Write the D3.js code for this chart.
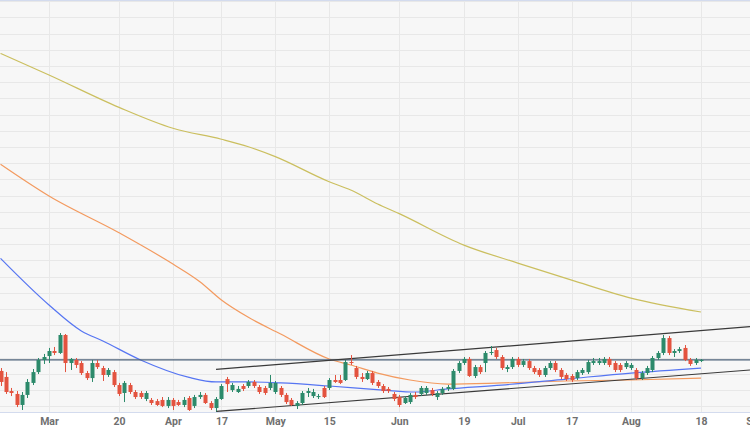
<!DOCTYPE html>
<html>
<head>
<meta charset="utf-8">
<script src="https://cdn.jsdelivr.net/npm/d3@7"></script>
<style>
  html, body { margin: 0; padding: 0; background: #ffffff; }
  svg { display: block; }
</style>
</head>
<body>
<svg id="chart" width="750" height="430"></svg>
<script>
// ---- data (trading-day index, 0 = Mar 1) ----
const startIndex = -9;
const opens = [12.17,11.80,10.93,10.75,10.07,10.69,11.43,12.10,12.85,
  13.09,13.40,13.28,14.39,12.66,12.85,12.66,12.04,11.73,12.66,
  12.35,11.92,12.10,11.30,10.81,11.30,10.87,10.81,10.44,10.38,
  10.31,10.38,10.01,10.38,10.25,10.07,10.50,10.01,10.56,10.69,
  10.19,9.88,10.44,11.67,10.99,10.87,11.24,11.24,11.49,11.18,
  11.12,11.12,10.87,11.12,10.69,10.38,10.01,10.19,10.81,10.62,
  10.56,11.12,11.12,11.61,11.61,11.61,12.72,12.35,11.80,11.67,
  12.04,11.49,11.24,11.06,10.75,10.56,10.19,10.25,10.69,10.75,
  10.81,10.99,10.56,10.81,11.06,11.06,12.17,12.66,12.91,11.86,
  12.41,12.66,13.28,13.46,13.03,12.29,12.41,12.91,12.54,12.78,
  12.35,12.23,11.92,12.35,12.66,12.23,11.92,11.86,11.73,12.04,
  12.10,12.66,12.66,12.66,12.91,12.66,12.54,12.41,12.35,12.23,
  11.73,12.04,12.23,12.97,13.28,14.20,13.28,13.40,13.59,12.85,
  12.66,12.78];
const highs = [12.35,12.10,11.12,10.93,10.87,11.67,12.29,12.97,13.22,
  13.59,13.65,14.51,14.45,12.97,12.97,12.78,12.17,12.85,12.85,
  12.48,12.35,12.23,11.43,11.55,11.43,10.99,10.93,10.93,10.50,
  10.44,10.56,10.56,10.50,10.38,10.56,10.62,10.69,10.87,10.81,
  10.31,10.56,11.36,11.80,11.43,11.24,11.36,11.61,11.61,11.30,
  11.24,11.92,11.55,11.24,10.81,10.50,10.31,10.93,11.12,11.06,
  10.75,11.24,11.73,11.92,11.92,12.85,13.15,12.48,12.04,12.17,
  12.17,11.61,11.36,11.18,10.87,10.69,10.62,10.81,10.87,11.24,
  11.24,11.12,10.93,11.18,11.30,12.29,12.78,13.03,13.03,12.54,
  12.54,13.40,13.71,13.59,13.15,12.54,13.03,13.03,12.91,12.91,
  12.48,12.35,12.48,12.78,12.78,12.35,12.04,11.98,12.23,12.35,
  12.85,12.97,12.97,13.03,13.03,12.78,12.66,12.78,12.66,12.35,
  12.17,12.48,13.09,13.40,14.39,14.33,13.52,13.65,13.77,12.97,
  12.97,12.91];
const lows = [11.24,10.75,10.62,9.94,9.76,10.50,11.30,11.98,12.60,
  12.66,13.15,13.22,12.10,12.23,12.35,11.92,11.61,11.49,12.29,
  11.55,11.80,11.18,10.62,10.25,10.75,10.44,10.44,10.31,10.07,
  10.01,9.94,9.88,9.76,10.01,9.94,9.70,9.88,10.44,10.13,
  9.76,9.67,10.38,10.87,10.87,10.81,10.93,11.12,11.12,10.75,
  10.69,10.99,10.75,10.56,10.13,10.01,9.82,10.07,10.56,10.50,
  10.44,10.50,10.99,11.43,11.36,11.55,12.54,11.67,11.49,11.61,
  11.30,11.12,10.81,10.81,10.31,9.94,10.13,10.13,10.44,10.62,
  10.69,10.62,10.38,10.69,10.93,10.99,12.04,12.54,11.80,11.73,
  11.98,12.10,13.15,12.91,12.23,12.10,12.29,12.41,12.41,12.23,
  11.98,11.80,11.80,12.23,12.10,11.67,11.55,11.49,11.61,11.92,
  11.98,12.54,12.54,12.54,12.41,12.10,12.10,12.29,12.23,11.61,
  11.61,11.92,12.10,12.85,13.15,13.15,13.03,13.28,12.78,12.48,
  12.54,12.72];
const closes = [11.49,10.87,10.81,10.07,10.69,11.49,12.10,12.85,13.03,
  13.40,13.28,14.39,12.66,12.91,12.54,12.04,11.73,12.66,12.41,
  11.92,12.23,11.30,10.75,11.43,10.87,10.56,10.56,10.81,10.19,
  10.07,10.01,10.38,10.01,10.07,10.38,9.76,10.56,10.69,10.19,
  9.88,10.44,11.24,11.36,11.30,11.06,11.06,11.49,11.24,10.87,
  10.81,11.43,11.43,10.69,10.25,10.07,10.19,10.81,10.93,10.87,
  10.62,10.56,11.61,11.49,11.43,12.72,12.66,11.80,11.67,12.04,
  11.43,11.24,10.93,10.93,10.44,10.07,10.50,10.69,10.56,11.12,
  11.12,10.75,10.81,11.06,11.18,12.17,12.66,12.91,11.86,12.41,
  12.10,13.28,13.34,13.03,12.35,12.41,12.91,12.54,12.78,12.35,
  12.10,11.92,12.35,12.66,12.23,11.80,11.67,11.61,12.10,12.23,
  12.72,12.78,12.78,12.91,12.54,12.23,12.23,12.66,12.54,11.73,
  12.04,12.35,12.97,13.28,14.20,13.28,13.40,13.52,12.85,12.60,
  12.85,12.85];

const sma200Idx = [-9, 0, 13, 23, 32, 37, 42, 52, 56, 61, 65, 77, 87, 97, 108, 121];
const sma200Val = [31.77, 30.44, 28.44, 27.15, 26.47, 26.01, 25.40, 23.85, 23.34, 22.48, 21.88, 19.94, 18.83, 17.78, 16.67, 15.81];
const sma100Idx = [-9, 0, 13, 23, 28, 32, 37, 43, 52, 56, 61, 67, 74, 84, 96, 108, 121];
const sma100Val = [24.93, 22.97, 20.70, 18.77, 17.68, 16.55, 15.48, 14.45, 12.91, 12.54, 12.04, 11.61, 11.36, 11.43, 11.55, 11.61, 11.73];
const sma50Idx = [-9, 0, 6, 10, 17, 26, 31, 37, 43, 52, 62, 68, 74, 84, 96, 108, 121];
const sma50Val = [19.12, 16.24, 14.64, 14.02, 12.85, 11.77, 11.49, 11.49, 11.43, 11.24, 10.99, 10.87, 11.06, 11.30, 11.67, 12.04, 12.35];

const upperTrend = [[31, 12.27], [130.1, 14.90]];
const lowerTrend = [[31, 9.67], [130.1, 12.23]];
const levelValue = 12.85;

const tickIndex = [0, 13, 23, 32, 42, 52, 65, 77, 87, 97, 108, 121, 131];
const tickLabels = ["Mar", "20", "Apr", "17", "May", "15", "Jun", "19", "Jul", "17", "Aug", "18", "Sep"];

// ---- layout ----
const W = 750, H = 430, plotH = 412;
const svg = d3.select("#chart");

const x = d3.scaleLinear().domain([-9.094, 130.1]).range([0, W]);
const y = d3.scaleLinear().domain([9.636, 35.068]).range([plotH, 0]);

svg.append("rect").attr("x", 0).attr("y", 0).attr("width", W).attr("height", H).attr("fill", "#ffffff");
svg.append("rect").attr("x", 0).attr("y", 0).attr("width", W).attr("height", plotH).attr("fill", "#f7f7f7");

svg.append("defs").append("clipPath").attr("id", "clip")
  .append("rect").attr("x", 0).attr("y", 0).attr("width", W).attr("height", plotH);

const g = svg.append("g").attr("clip-path", "url(#clip)");

// grid
g.append("g").selectAll("line").data(d3.range(10, 36)).join("line")
  .attr("x1", 0).attr("x2", W)
  .attr("y1", d => Math.round(y(d)) + 0.5).attr("y2", d => Math.round(y(d)) + 0.5)
  .attr("stroke", "#e8e8e8").attr("stroke-width", 1);
g.append("g").selectAll("line").data(tickIndex).join("line")
  .attr("x1", d => Math.round(x(d)) + 0.5).attr("x2", d => Math.round(x(d)) + 0.5)
  .attr("y1", 0).attr("y2", plotH)
  .attr("stroke", "#e8e8e8").attr("stroke-width", 1);

// moving averages
const line = d3.line().x(d => x(d[0])).y(d => y(d[1])).curve(d3.curveMonotoneX);
function maPath(idx, val, color) {
  g.append("path").datum(idx.map((d, i) => [d, val[i]]))
    .attr("d", line).attr("fill", "none").attr("stroke", color).attr("stroke-width", 1.2);
}
maPath(sma200Idx, sma200Val, "#cbbf5f");
maPath(sma100Idx, sma100Val, "#f39a5f");
maPath(sma50Idx, sma50Val, "#5675f2");

// horizontal level
g.append("line").attr("x1", 0).attr("x2", W)
  .attr("y1", y(levelValue)).attr("y2", y(levelValue))
  .attr("stroke", "#4b6079").attr("stroke-width", 1.3);

// trend lines
const straight = d3.line().x(d => x(d[0])).y(d => y(d[1]));
[upperTrend, lowerTrend].forEach(t => {
  g.append("path").datum(t).attr("d", straight).attr("fill", "none")
    .attr("stroke", "#3a3a3a").attr("stroke-width", 1.2);
});

// candles
const candles = opens.map((o, i) => ({ i: startIndex + i, o, h: highs[i], l: lows[i], c: closes[i] }));
const up = "#2c8a6b", down = "#e3533f";
const cg = g.append("g");
cg.selectAll("line").data(candles).join("line")
  .attr("x1", d => Math.round(x(d.i)) + 0.5).attr("x2", d => Math.round(x(d.i)) + 0.5)
  .attr("y1", d => y(d.h)).attr("y2", d => y(d.l))
  .attr("stroke", d => d.c >= d.o ? up : down).attr("stroke-width", 1);
cg.selectAll("rect").data(candles).join("rect")
  .attr("x", d => Math.round(x(d.i)) - 1.5)
  .attr("width", 4)
  .attr("y", d => y(Math.max(d.o, d.c)))
  .attr("height", d => Math.max(1, Math.abs(y(d.o) - y(d.c))))
  .attr("fill", d => d.c >= d.o ? up : down);

// borders
svg.append("line").attr("x1", 0).attr("x2", W).attr("y1", 0.5).attr("y2", 0.5)
  .attr("stroke", "#d3dbee").attr("stroke-width", 1);
svg.append("line").attr("x1", 0).attr("x2", W).attr("y1", plotH + 0.5).attr("y2", plotH + 0.5)
  .attr("stroke", "#d3dbee").attr("stroke-width", 1);

// x axis
const axis = d3.axisBottom(x).tickValues(tickIndex)
  .tickFormat((d, i) => tickLabels[i]).tickSize(0).tickPadding(0);
const ax = svg.append("g").attr("transform", `translate(0,${plotH})`).call(axis);
ax.select(".domain").remove();
ax.selectAll("text")
  .attr("y", 13).attr("dy", 0)
  .style("font-family", "Roboto, 'Liberation Sans', Arial, sans-serif")
  .style("font-size", "10.5px").style("font-weight", "bold").attr("fill", "#6f6f6f");
</script>
</body>
</html>
